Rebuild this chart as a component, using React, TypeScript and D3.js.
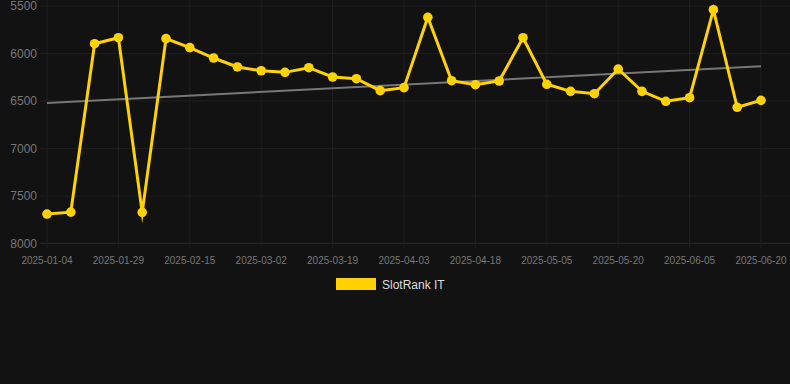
import React, { useEffect, useRef } from "react";
import * as d3 from "d3";

const dates = [
  "2025-01-04", "2025-01-12", "2025-01-21", "2025-01-29", "2025-02-03", "2025-02-09",
  "2025-02-15", "2025-02-20", "2025-02-25", "2025-03-02", "2025-03-08", "2025-03-14",
  "2025-03-19", "2025-03-24", "2025-03-29", "2025-04-03", "2025-04-08", "2025-04-13",
  "2025-04-18", "2025-04-24", "2025-04-30", "2025-05-05", "2025-05-10", "2025-05-15",
  "2025-05-20", "2025-05-26", "2025-05-31", "2025-06-05", "2025-06-10", "2025-06-15",
  "2025-06-20",
];

const ranks = [
  7692, 7672, 5897, 5834, 7674, 5844, 5939, 6048, 6142, 6182, 6199, 6150, 6248, 6266,
  6392, 6360, 5619, 6287, 6329, 6290, 5834, 6325, 6399, 6424, 6164, 6399, 6504, 6466,
  5539, 6567, 6494,
];

const yTicks = [5500, 6000, 6500, 7000, 7500, 8000];
const seriesName = "SlotRank IT";

const W = 790;
const H = 384;

export default function App() {
  const ref = useRef<SVGSVGElement | null>(null);

  useEffect(() => {
    document.body.style.margin = "0";
    document.body.style.background = "#121212";
    const svg = d3.select(ref.current);
    svg.selectAll("*").remove();

    const x = d3.scalePoint<string>().domain(dates).range([47, 761]);
    const y = d3.scaleLinear().domain([5500, 8000]).range([6, 243.3]);

    const g = svg.append("g");
    g.selectAll("line.hg")
      .data(yTicks)
      .join("line")
      .attr("x1", 40)
      .attr("x2", W)
      .attr("y1", (d) => y(d))
      .attr("y2", (d) => y(d))
      .attr("stroke", (d) => (d === 8000 ? "#2c2c2c" : "#1f1f1f"))
      .attr("stroke-width", 1);

    const labelDates = dates.filter((_, i) => i % 3 === 0);
    g.selectAll("line.vg")
      .data(labelDates)
      .join("line")
      .attr("x1", (d) => x(d)!)
      .attr("x2", (d) => x(d)!)
      .attr("y1", 0)
      .attr("y2", 248)
      .attr("stroke", "#1f1f1f")
      .attr("stroke-width", 1);

    g.selectAll("text.yt")
      .data(yTicks)
      .join("text")
      .attr("x", 37)
      .attr("y", (d) => y(d))
      .attr("dy", "0.35em")
      .attr("text-anchor", "end")
      .attr("fill", "#777")
      .attr("font-size", 12)
      .attr("font-family", "Liberation Sans, Arial, sans-serif")
      .text((d) => String(d));

    g.selectAll("text.xt")
      .data(labelDates)
      .join("text")
      .attr("x", (d) => x(d)!)
      .attr("y", 260)
      .attr("dy", "0.35em")
      .attr("text-anchor", "middle")
      .attr("fill", "#777")
      .attr("font-size", 10)
      .attr("font-family", "Liberation Sans, Arial, sans-serif")
      .text((d) => d);

    const n = ranks.length;
    const xs = ranks.map((_, i) => i);
    const mx = d3.mean(xs)!;
    const my = d3.mean(ranks)!;
    const slope =
      d3.sum(xs.map((xi, i) => (xi - mx) * (ranks[i] - my))) /
      d3.sum(xs.map((xi) => (xi - mx) ** 2));
    const icpt = my - slope * mx;
    g.append("line")
      .attr("x1", x(dates[0])!)
      .attr("x2", x(dates[n - 1])!)
      .attr("y1", y(icpt))
      .attr("y2", y(icpt + slope * (n - 1)))
      .attr("stroke", "#777")
      .attr("stroke-width", 2);

    const line = d3
      .line<number>()
      .x((_, i) => x(dates[i])!)
      .y((d) => y(d));
    g.append("path")
      .datum(ranks)
      .attr("d", line)
      .attr("fill", "none")
      .attr("stroke", "#FFD200")
      .attr("stroke-width", 3)
      .attr("stroke-linejoin", "miter")
      .attr("stroke-miterlimit", 10);

    g.selectAll("circle")
      .data(ranks)
      .join("circle")
      .attr("cx", (_, i) => x(dates[i])!)
      .attr("cy", (d) => y(d))
      .attr("r", 4.8)
      .attr("fill", "#FFD200");

    g.append("rect")
      .attr("x", 336)
      .attr("y", 278)
      .attr("width", 40)
      .attr("height", 12)
      .attr("fill", "#FFD200");
    g.append("text")
      .attr("x", 382)
      .attr("y", 285)
      .attr("dy", "0.35em")
      .attr("fill", "#ddd")
      .attr("font-size", 12)
      .attr("font-family", "Liberation Sans, Arial, sans-serif")
      .text(seriesName);
  }, []);

  return (
    <svg
      ref={ref}
      width={W}
      height={H}
      style={{ display: "block", background: "#121212", position: "absolute", left: 0, top: 0 }}
    />
  );
}
